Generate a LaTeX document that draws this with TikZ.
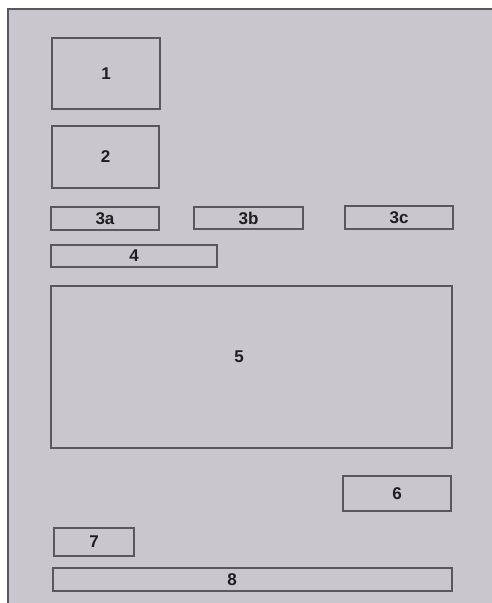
\documentclass[tikz,border=0pt]{standalone}
\usepackage{fontspec}
\setmainfont{Liberation Sans}
\definecolor{bg}{HTML}{C9C7CD}
\definecolor{ln}{HTML}{58585D}
\definecolor{tx}{HTML}{1E1E22}
\begin{document}
\begin{tikzpicture}[x=1pt,y=-1pt,
  box/.style={draw=ln, line width=1.6pt, rectangle, inner sep=0pt, outer sep=0pt,
    font=\bfseries\fontsize{17}{18}\selectfont, text=tx},
  lbl/.style={inner sep=0pt, font=\bfseries\fontsize{17}{18}\selectfont, text=tx}]
\fill[white] (0,0) rectangle (492,603);
\useasboundingbox (0,0) rectangle (492,603);
\fill[bg] (8,9) rectangle (492,603);
\draw[ln, line width=1.6pt] (8,603) -- (8,9) -- (492,9);
\node[box, minimum width=108pt, minimum height=71pt] (b1) at (106,73.5) {1};
\node[box, minimum width=107pt, minimum height=62pt] (b2) at (105.5,157) {2};
\node[box, minimum width=108pt, minimum height=23pt] (b3a) at (105,218.5) {3a};
\node[box, minimum width=109pt, minimum height=22pt] (b3b) at (248.5,218) {3b};
\node[box, minimum width=108pt, minimum height=23pt] (b3c) at (399,217.5) {3c};
\node[box, minimum width=166pt, minimum height=22pt] (b4) at (134,256) {4};
\node[box, minimum width=401pt, minimum height=162pt] (b5) at (251.5,367) {};
\node[lbl] (l5) at (239,357) {5};
\node[box, minimum width=108pt, minimum height=35pt] (b6) at (397,493.5) {6};
\node[box, minimum width=80pt, minimum height=28pt] (b7) at (94,542) {7};
\node[box, minimum width=399pt, minimum height=23pt] (b8) at (252.5,579.5) {};
\node[lbl] (l8) at (232,579.5) {8};
\end{tikzpicture}
\end{document}
